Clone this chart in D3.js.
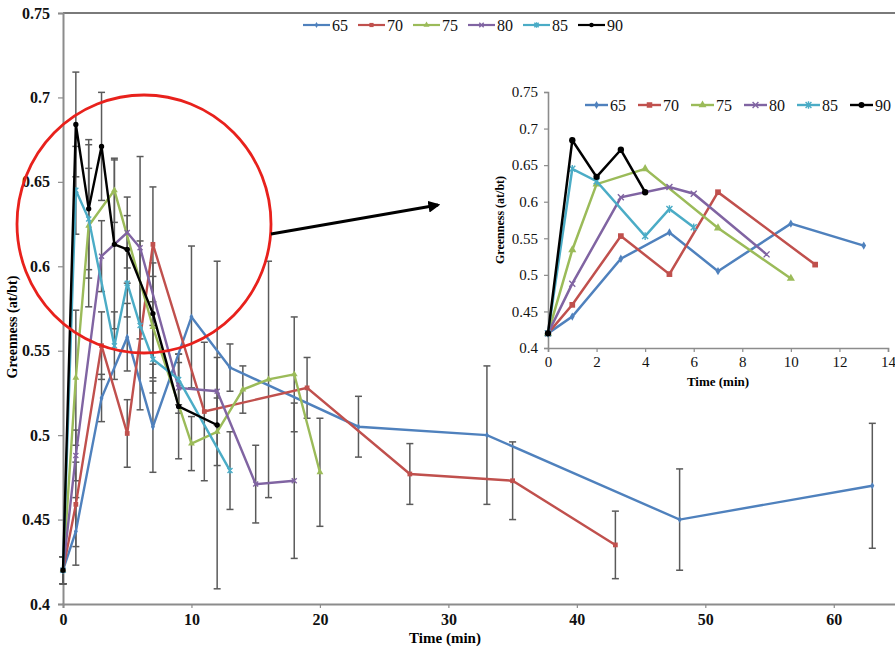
<!DOCTYPE html>
<html><head><meta charset="utf-8">
<script src="https://cdn.jsdelivr.net/npm/d3@7"></script>
<style>body{margin:0;background:#fff}svg{display:block}</style>
</head><body>
<svg id="c" width="895" height="648"></svg>
<script>
// ---------------- DATA ----------------
const seriesNames = ["65","70","75","80","85","90"];
const seriesColors = ["#4F81BD","#C0504D","#9BBB59","#8064A2","#4BACC6","#000000"];
const seriesMarkers = ["diamond","square","triangle","cross","star","circle"];

const time65 = [0,1,3,5,7,10,13,23,33,48,63];
const green65 = [0.42,0.443,0.522,0.558,0.505,0.57,0.54,0.505,0.50,0.45,0.47];
const err65 = [0.008,0.02,0.014,0.02,0.027,0.042,0.014,0.018,0.041,0.03,0.037];

const time70 = [0,1,3,5,7,11,19,27,35,43];
const green70 = [0.42,0.459,0.553,0.501,0.613,0.514,0.528,0.477,0.473,0.435];
const err70 = [0.008,0.025,0.02,0.02,0.034,0.041,0.018,0.018,0.023,0.02];

const time75 = [0,1,2,4,7,10,12,14,16,18,20];
const green75 = [0.42,0.534,0.624,0.645,0.564,0.495,0.502,0.527,0.533,0.536,0.478];
const err75 = [0.008,0.04,0.048,0.019,0.03,0.016,0.02,0.014,0.07,0.034,0.032];

const time80 = [0,1,3,5,6,9,12,15,18];
const green80 = [0.42,0.488,0.606,0.62,0.611,0.528,0.526,0.471,0.473];
const err80 = [0.008,0.015,0.021,0.021,0.054,0.015,0.02,0.023,0.046];

const time85 = [0,1,2,4,5,6,7,9,13];
const green85 = [0.42,0.645,0.628,0.553,0.59,0.565,0.545,0.533,0.479];
const err85 = [0.008,0.026,0.03,0.02,0.02,0.05,0.02,0.015,0.023];

const time90 = [0,1,2,3,4,5,7,9,12];
const green90 = [0.42,0.684,0.634,0.671,0.613,0.61,0.572,0.517,0.506];
const err90 = [0.008,0.031,0.041,0.032,0.05,0.02,0.03,0.031,0.097];

const insetLastTime = [13,11,10,9,6,4];

const yTickValues = [0.4,0.45,0.5,0.55,0.6,0.65,0.7,0.75];
const xTickMain = [0,10,20,30,40,50,60];
const xTickInset = [0,2,4,6,8,10,12,14];

const allTimes = [time65,time70,time75,time80,time85,time90];
const allGreen = [green65,green70,green75,green80,green85,green90];
const allErr = [err65,err70,err75,err80,err85,err90];
const series = seriesNames.map((n,i)=>({
  name:n, color:seriesColors[i], marker:seriesMarkers[i],
  pts: allTimes[i].map((t,j)=>({t, v:allGreen[i][j], e:allErr[i][j]}))
}));

// ---------------- DRAW ----------------
const svg = d3.select("#c");
const FONT = "'Liberation Serif','Times New Roman',serif";
const AX = "#8c8c8c";

function drawMarker(g, type, x, y, s, color){
  if(type==="cross"||type==="star"){
    let d = `M${x-s},${y-s}L${x+s},${y+s}M${x-s},${y+s}L${x+s},${y-s}`;
    if(type==="star") d += `M${x},${y-s*1.3}L${x},${y+s*1.3}`;
    g.append("path").attr("d",d).attr("stroke",color).attr("stroke-width",1.4).attr("fill","none");
  } else {
    const sym = {diamond:d3.symbolDiamond, square:d3.symbolSquare, triangle:d3.symbolTriangle, circle:d3.symbolCircle}[type];
    const area = {diamond:s*s*2.2, square:s*s*3.6, triangle:s*s*3.2, circle:s*s*3.3}[type];
    g.append("path").attr("d", d3.symbol().type(sym).size(area)())
      .attr("transform",`translate(${x},${y})`).attr("fill",color);
  }
}

// ===== Main chart =====
const xM = d3.scaleLinear([0,65],[63,898]);
const yM = d3.scaleLinear([0.4,0.75],[604,13]);
const fmt = d => String(+d.toFixed(2));

const main = svg.append("g");
main.append("line").attr("x1",xM(0)).attr("x2",xM(65)).attr("y1",yM(0.75)).attr("y2",yM(0.75))
  .attr("stroke","#7a7a7a").attr("stroke-width",2);

const yAxM = main.append("g").attr("transform",`translate(${xM(0)},0)`)
  .call(d3.axisLeft(yM).tickValues(yTickValues).tickFormat(fmt).tickSize(5).tickPadding(8));
const xAxM = main.append("g").attr("transform",`translate(0,${yM(0.4)})`)
  .call(d3.axisBottom(xM).tickValues(xTickMain).tickFormat(d3.format("d")).tickSize(4).tickPadding(6));
[yAxM,xAxM].forEach(a=>{
  a.select(".domain").attr("stroke",AX).attr("stroke-width",2);
  a.selectAll(".tick line").attr("stroke",AX).attr("stroke-width",1.2);
  a.selectAll("text").attr("font-family",FONT).attr("font-size",16).attr("font-weight","bold").attr("fill","#111");
});

main.append("text").attr("x",445).attr("y",643).attr("text-anchor","middle")
  .attr("font-family",FONT).attr("font-size",15).attr("font-weight","bold").text("Time (min)");
main.append("text").attr("transform","translate(17,327) rotate(-90)").attr("text-anchor","middle")
  .attr("font-family",FONT).attr("font-size",14).attr("font-weight","bold").text("Greenness (at/bt)");

const eb = main.append("g");
series.forEach(s=>{
  s.pts.forEach(p=>{
    const x = xM(p.t), y1 = yM(p.v+p.e), y2 = yM(p.v-p.e);
    eb.append("line").attr("x1",x).attr("x2",x).attr("y1",y1).attr("y2",y2).attr("stroke","#5a5a5a").attr("stroke-width",1.5);
    [y1,y2].forEach(yy=>eb.append("line").attr("x1",x-3.5).attr("x2",x+3.5).attr("y1",yy).attr("y2",yy).attr("stroke","#5a5a5a").attr("stroke-width",1.5));
  });
});

const lineM = d3.line().x(p=>xM(p.t)).y(p=>yM(p.v));
series.forEach(s=>{
  const g = main.append("g");
  g.append("path").attr("d",lineM(s.pts)).attr("fill","none").attr("stroke",s.color).attr("stroke-width",2.4);
  s.pts.forEach(p=>drawMarker(g,s.marker,xM(p.t),yM(p.v),s.marker==="circle"?2.6:2.5,s.color));
});

const legM = main.append("g");
series.forEach((s,i)=>{
  const x0 = 303 + i*55, y0 = 25;
  legM.append("line").attr("x1",x0).attr("x2",x0+27).attr("y1",y0).attr("y2",y0).attr("stroke",s.color).attr("stroke-width",2.2);
  drawMarker(legM,s.marker,x0+13.5,y0,2.2,s.color);
  legM.append("text").attr("x",x0+29).attr("y",y0+5.5).attr("font-family",FONT).attr("font-size",16).attr("fill","#111").text(s.name);
});

svg.append("ellipse").attr("cx",144).attr("cy",224).attr("rx",127).attr("ry",129)
  .attr("fill","none").attr("stroke","#e8211c").attr("stroke-width",2.8);
svg.append("defs").append("marker").attr("id","ah").attr("viewBox","0 0 10 10").attr("refX",8).attr("refY",5)
  .attr("markerWidth",4).attr("markerHeight",4).attr("orient","auto")
  .append("path").attr("d","M0,0L10,5L0,10z").attr("fill","#000");
svg.append("line").attr("x1",271).attr("y1",234).attr("x2",438).attr("y2",205)
  .attr("stroke","#000").attr("stroke-width",3).attr("marker-end","url(#ah)");

// ===== Inset =====
const xI = d3.scaleLinear([0,14],[548,888]);
const yI = d3.scaleLinear([0.4,0.75],[348,92]);
const ins = svg.append("g");
const yAxI = ins.append("g").attr("transform",`translate(${xI(0)},0)`)
  .call(d3.axisLeft(yI).tickValues(yTickValues).tickFormat(fmt).tickSize(4).tickPadding(6));
const xAxI = ins.append("g").attr("transform",`translate(0,${yI(0.4)})`)
  .call(d3.axisBottom(xI).tickValues(xTickInset).tickFormat(d3.format("d")).tickSize(4).tickPadding(4));
[yAxI,xAxI].forEach(a=>{
  a.select(".domain").attr("stroke",AX).attr("stroke-width",1.6);
  a.selectAll(".tick line").attr("stroke",AX).attr("stroke-width",1.2);
  a.selectAll("text").attr("font-family",FONT).attr("font-size",15).attr("fill","#111");
});
ins.append("text").attr("x",718).attr("y",386).attr("text-anchor","middle")
  .attr("font-family",FONT).attr("font-size",13).attr("font-weight","bold").text("Time (min)");
ins.append("text").attr("transform","translate(504,220) rotate(-90)").attr("text-anchor","middle")
  .attr("font-family",FONT).attr("font-size",12).attr("font-weight","bold").text("Greenness (at/bt)");

const lineI = d3.line().x(p=>xI(p.t)).y(p=>yI(p.v));
series.forEach((s,i)=>{
  const pts = s.pts.filter(p=>p.t<=insetLastTime[i]);
  const g = ins.append("g");
  g.append("path").attr("d",lineI(pts)).attr("fill","none").attr("stroke",s.color).attr("stroke-width",2.5);
  pts.forEach(p=>drawMarker(g,s.marker,xI(p.t),yI(p.v),s.marker==="circle"?3.1:3.0,s.color));
});
const legI = ins.append("g");
series.forEach((s,i)=>{
  const x0 = 585 + i*53, y0 = 105;
  legI.append("line").attr("x1",x0).attr("x2",x0+23).attr("y1",y0).attr("y2",y0).attr("stroke",s.color).attr("stroke-width",2.4);
  drawMarker(legI,s.marker,x0+11.5,y0,2.9,s.color);
  legI.append("text").attr("x",x0+25).attr("y",y0+5.5).attr("font-family",FONT).attr("font-size",16).attr("fill","#111").text(s.name);
});
</script>
</body></html>
